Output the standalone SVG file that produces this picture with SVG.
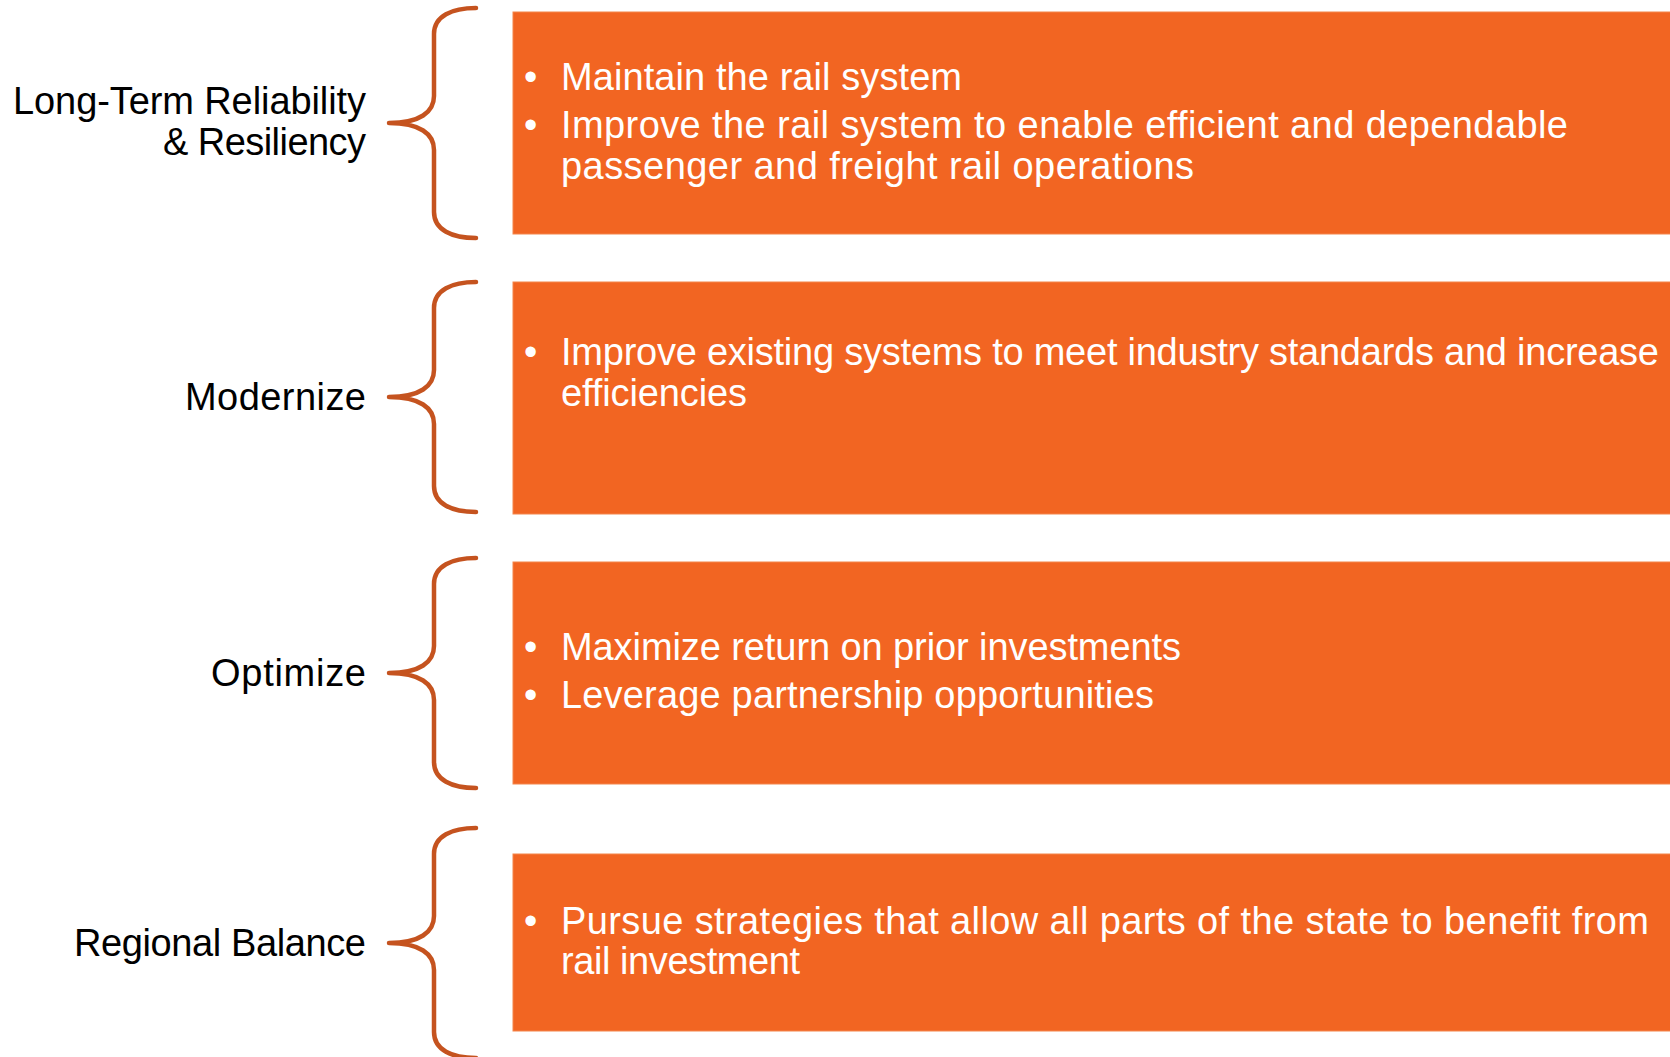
<svg xmlns="http://www.w3.org/2000/svg" xmlns:xlink="http://www.w3.org/1999/xlink" width="1670" height="1057" viewBox="0 0 1670 1057">
<style>
.box{fill:#F26522;stroke:#F4854A;stroke-width:1}
.lbl{font-family:"Liberation Sans",Arial,sans-serif;font-size:38px;fill:#000;text-anchor:end}
.body{font-family:"Liberation Sans",Arial,sans-serif;font-size:38px;fill:#fff}
.bul{font-family:"Liberation Sans",Arial,sans-serif;font-size:38px;fill:#fff}
.brace{fill:none;stroke:#C5531F;stroke-width:4.5;stroke-linecap:round;stroke-linejoin:round}
</style>
<defs>
<path id="brace" d="M87,-115 C63,-115 45,-107 45,-89 L45,-27 C45,-11 31,0 0,0 C31,0 45,11 45,27 L45,89 C45,107 63,115 87,115"/>
</defs>
<rect width="1670" height="1057" fill="#fff"/>

<g id="connectors">
<use xlink:href="#brace" href="#brace" class="brace" transform="translate(389,123)"/>
<use xlink:href="#brace" href="#brace" class="brace" transform="translate(389,397)"/>
<use xlink:href="#brace" href="#brace" class="brace" transform="translate(389,673)"/>
<use xlink:href="#brace" href="#brace" class="brace" transform="translate(389,943)"/>
</g>

<g id="label-reliability">
<text class="lbl" x="366" y="114" textLength="353">Long-Term Reliability</text>
<text class="lbl" x="366" y="155" textLength="203">&amp; Resiliency</text>
</g>
<g id="label-modernize">
<text class="lbl" x="366" y="410" textLength="181">Modernize</text>
</g>
<g id="label-optimize">
<text class="lbl" x="366" y="686" textLength="155">Optimize</text>
</g>
<g id="label-regional">
<text class="lbl" x="366" y="956" textLength="292">Regional Balance</text>
</g>

<g id="box-reliability">
<rect class="box" x="513" y="12" width="1170" height="222"/>
<text class="bul" x="524" y="90">•</text>
<text class="body" x="561" y="90" textLength="401">Maintain the rail system</text>
<text class="bul" x="524" y="138">•</text>
<text class="body" x="561" y="138" textLength="1007">Improve the rail system to enable efficient and dependable</text>
<text class="body" x="561" y="179" textLength="633">passenger and freight rail operations</text>
</g>

<g id="box-modernize">
<rect class="box" x="513" y="282" width="1170" height="232"/>
<text class="bul" x="524" y="365">•</text>
<text class="body" x="561" y="365" textLength="1098">Improve existing systems to meet industry standards and increase</text>
<text class="body" x="561" y="406" textLength="186">efficiencies</text>
</g>

<g id="box-optimize">
<rect class="box" x="513" y="562" width="1170" height="222"/>
<text class="bul" x="524" y="660">•</text>
<text class="body" x="561" y="660" textLength="620">Maximize return on prior investments</text>
<text class="bul" x="524" y="708">•</text>
<text class="body" x="561" y="708" textLength="593">Leverage partnership opportunities</text>
</g>

<g id="box-regional">
<rect class="box" x="513" y="854" width="1170" height="177"/>
<text class="bul" x="524" y="934">•</text>
<text class="body" x="561" y="934" textLength="1088">Pursue strategies that allow all parts of the state to benefit from</text>
<text class="body" x="561" y="974" textLength="239">rail investment</text>
</g>
</svg>
